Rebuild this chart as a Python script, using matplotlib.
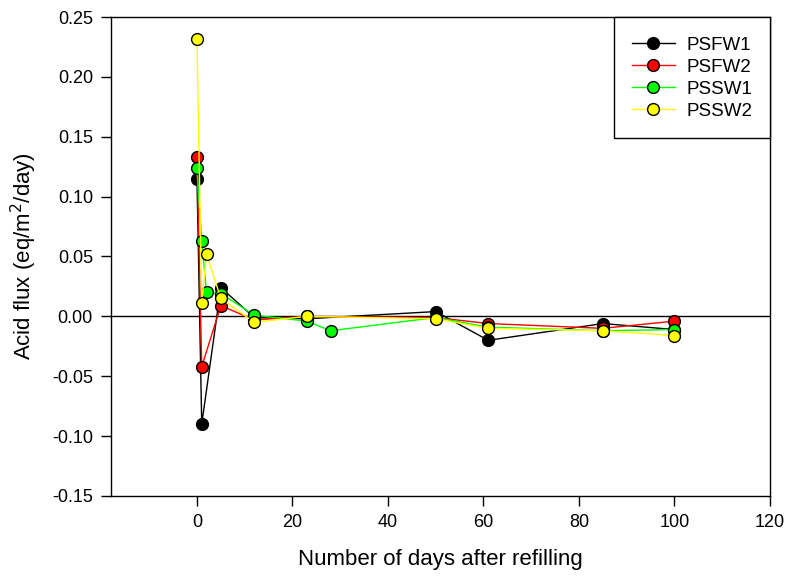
import numpy as np
import matplotlib
matplotlib.use("Agg")
import matplotlib.pyplot as plt

plt.rcParams['font.family'] = ['Liberation Sans', 'DejaVu Sans']

# days after refilling for each series
days_psfw1 = [0, 1, 5, 12, 23, 50, 61, 85, 100]
days_psfw2 = [0, 1, 5, 12, 23, 50, 61, 85, 100]
days_pssw1 = [0, 1, 2, 5, 12, 23, 28, 50, 61, 85, 100]
days_pssw2 = [0, 1, 2, 5, 12, 23, 50, 61, 85, 100]

# acid flux (eq/m2/day)
flux_psfw1 = [0.115, -0.090, 0.024, -0.001, -0.002, 0.004, -0.020, -0.006, -0.011]
flux_psfw2 = [0.133, -0.042, 0.009, -0.003, 0.000, -0.001, -0.006, -0.010, -0.004]
flux_pssw1 = [0.124, 0.063, 0.020, 0.019, 0.001, -0.004, -0.012, -0.001, -0.009, -0.012, -0.011]
flux_pssw2 = [0.232, 0.011, 0.052, 0.015, -0.005, 0.000, -0.002, -0.010, -0.012, -0.016]

names = ["PSFW1", "PSFW2", "PSSW1", "PSSW2"]
colors = ["black", "red", "#00ff00", "yellow"]

fig = plt.figure(figsize=(7.89, 5.79), dpi=100)
ax = fig.add_axes([0.1407, 0.1434, 0.8352, 0.8272])

ax.axhline(0, color="black", lw=1, zorder=1)

all_days = [days_psfw1, days_psfw2, days_pssw1, days_pssw2]
all_flux = [flux_psfw1, flux_psfw2, flux_pssw1, flux_pssw2]
for i in range(4):
    ax.plot(all_days[i], all_flux[i], color=colors[i], lw=1, marker="o", ms=8.5,
            markerfacecolor=colors[i], markeredgecolor="black", markeredgewidth=1,
            label=names[i], zorder=2 + i)

ax.set_xlim(-18, 120)
ax.set_ylim(-0.15, 0.25)
ax.set_xticks([0, 20, 40, 60, 80, 100, 120])
ax.set_yticks(np.arange(-0.15, 0.2501, 0.05))
ax.yaxis.set_major_formatter(matplotlib.ticker.FormatStrFormatter("%.2f"))
ax.tick_params(direction="out", length=7, width=1, labelsize=13, pad=6,
               top=False, right=False)
for s in ax.spines.values():
    s.set_linewidth(1)

ax.set_xlabel("Number of days after refilling", fontsize=16, labelpad=13)
ax.set_ylabel("Acid flux (eq/m$^2$/day)", fontsize=16, labelpad=9)

# legend sits in the top right corner, rows a bit taller than the text
leg = ax.legend(loc="upper right", borderaxespad=0, fancybox=False, fontsize=13.5,
                edgecolor="black", framealpha=1, handlelength=2.3,
                handleheight=1.15, handletextpad=0.6, borderpad=0.95,
                labelspacing=0.125)
leg.get_frame().set_linewidth(1)

fig.savefig("out.png", dpi=100)
